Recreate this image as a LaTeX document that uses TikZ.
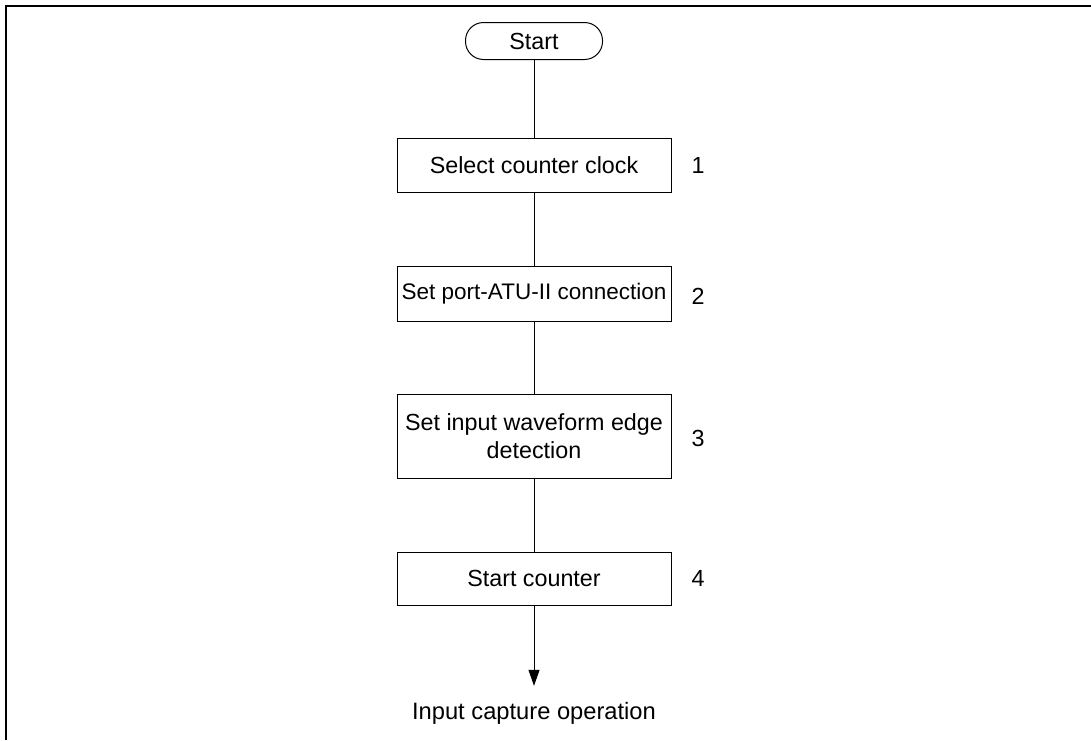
\documentclass[tikz,border=0pt]{standalone}
\usepackage{fontspec}
\setmainfont{Liberation Sans}
\usetikzlibrary{arrows.meta}
\tikzset{
  stepbox/.style={draw, line width=1pt, minimum width=274pt, minimum height=54pt, align=center, inner sep=3pt},
  termbox/.style={draw, line width=1pt, rounded corners=18pt, minimum width=137pt, minimum height=37pt},
  flow/.style={line width=1pt},
  flowarrow/.style={flow, -{Triangle[length=16pt,width=11pt]}},
}
\begin{document}
\begin{tikzpicture}[x=1pt,y=-1pt,font=\fontsize{23.3}{28}\selectfont]
            \useasboundingbox (0,0) rectangle (1091,740);
            \draw[line width=2pt] (6,740) -- (6,6) -- (1091,6);
            \node[termbox] (start) at (534,41) {Start};
            \node[stepbox] (s1) at (534,165) {Select counter clock};
            \node[stepbox, minimum height=55pt, font=\fontsize{22.5}{28}\selectfont] (s2) at (534,293.5) {Set port-ATU-II connection};
            \node[stepbox, minimum height=84pt] (s3) at (534,436) {Set input waveform edge\\detection};
            \node[stepbox, minimum height=53pt] (s4) at (534,578.5) {Start counter};
            \node[anchor=base, inner sep=0pt, outer ysep=16pt, font=\fontsize{23.7}{28}\selectfont] (out) at (534,719) {Input capture operation};
            \node (n1) at (698,165) {1};
            \node (n2) at (698,296) {2};
            \node (n3) at (698,438) {3};
            \node (n4) at (698,578.5) {4};
            \draw[flow] (start) -- (s1);
            \draw[flow] (s1) -- (s2);
            \draw[flow] (s2) -- (s3);
            \draw[flow] (s3) -- (s4);
            \draw[flowarrow] (s4) -- (out);
        \end{tikzpicture}
\end{document}
